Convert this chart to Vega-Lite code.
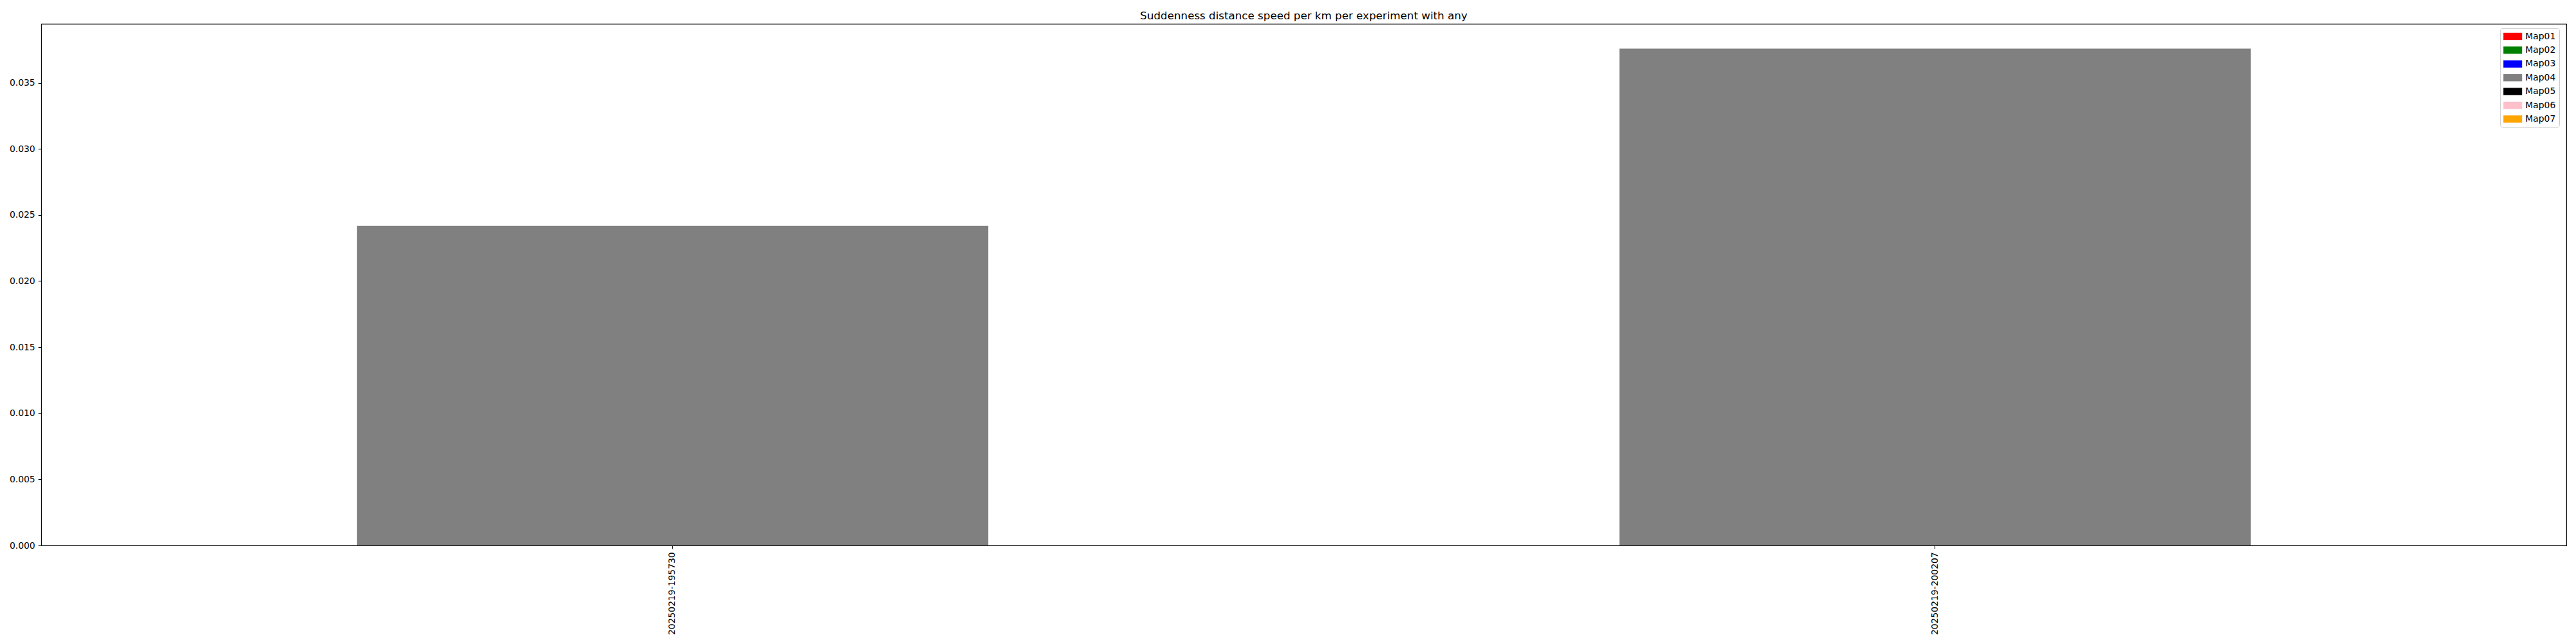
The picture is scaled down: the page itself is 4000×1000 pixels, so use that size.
{
  "$schema": "https://vega.github.io/schema/vega-lite/v6.json",
  "width": 3921,
  "height": 810,
  "autosize": {"type": "none"},
  "padding": {"left": 64, "top": 37, "right": 15, "bottom": 153},
  "background": "white",
  "config": {
    "font": "DejaVu Sans",
    "view": {"stroke": "black", "strokeWidth": 1.1},
    "legend": {
      "orient": "none",
      "legendX": 3818,
      "legendY": 7,
      "title": null,
      "symbolType": "M-2,-0.78H2V0.78H-2Z",
      "symbolSize": 210,
      "symbolStrokeWidth": 0,
      "symbolOffset": 7.25,
      "labelFontSize": 13.9,
      "labelFont": "DejaVu Sans",
      "labelColor": "black",
      "labelOffset": 12,
      "fillColor": "white",
      "strokeColor": "#cccccc",
      "cornerRadius": 3,
      "padding": 5,
      "rowPadding": 6.4
    }
  },
  "title": {
    "text": "Suddenness distance speed per km per experiment with any",
    "fontSize": 16.7,
    "fontWeight": "normal",
    "font": "DejaVu Sans",
    "anchor": "middle",
    "frame": "group",
    "baseline": "alphabetic",
    "offset": 8,
    "dy": 18,
    "color": "black"
  },
  "data": {
    "values": [
      {"experiment": "20250219-195730", "map": "Map04", "value": 0.02418},
      {"experiment": "20250219-200207", "map": "Map04", "value": 0.03758}
    ]
  },
  "mark": {"type": "bar"},
  "encoding": {
    "x": {
      "field": "experiment",
      "type": "nominal",
      "sort": null,
      "scale": {"paddingInner": 0.5, "paddingOuter": 0.25},
      "axis": {
        "title": null,
        "labelAngle": -90,
        "labelFontSize": 13.9,
        "labelColor": "black",
        "labelFont": "DejaVu Sans",
        "tickColor": "black",
        "tickSize": 4.9,
        "tickWidth": 1.1,
        "labelPadding": 4.9,
        "domain": false,
        "grid": false
      }
    },
    "y": {
      "field": "value",
      "type": "quantitative",
      "scale": {"domain": [0, 0.03946], "nice": false},
      "axis": {
        "title": null,
        "values": [0, 0.005, 0.01, 0.015, 0.02, 0.025, 0.03, 0.035],
        "format": ".3f",
        "labelFontSize": 13.9,
        "labelColor": "black",
        "labelFont": "DejaVu Sans",
        "tickColor": "black",
        "tickSize": 4.9,
        "tickWidth": 1.1,
        "labelPadding": 4.9,
        "domain": false,
        "grid": false
      }
    },
    "color": {
      "field": "map",
      "type": "nominal",
      "scale": {
        "domain": ["Map01", "Map02", "Map03", "Map04", "Map05", "Map06", "Map07"],
        "range": ["#ff0000", "#008000", "#0000ff", "#808080", "#000000", "#ffc0cb", "#ffa500"]
      },
      "legend": {}
    }
  }
}
